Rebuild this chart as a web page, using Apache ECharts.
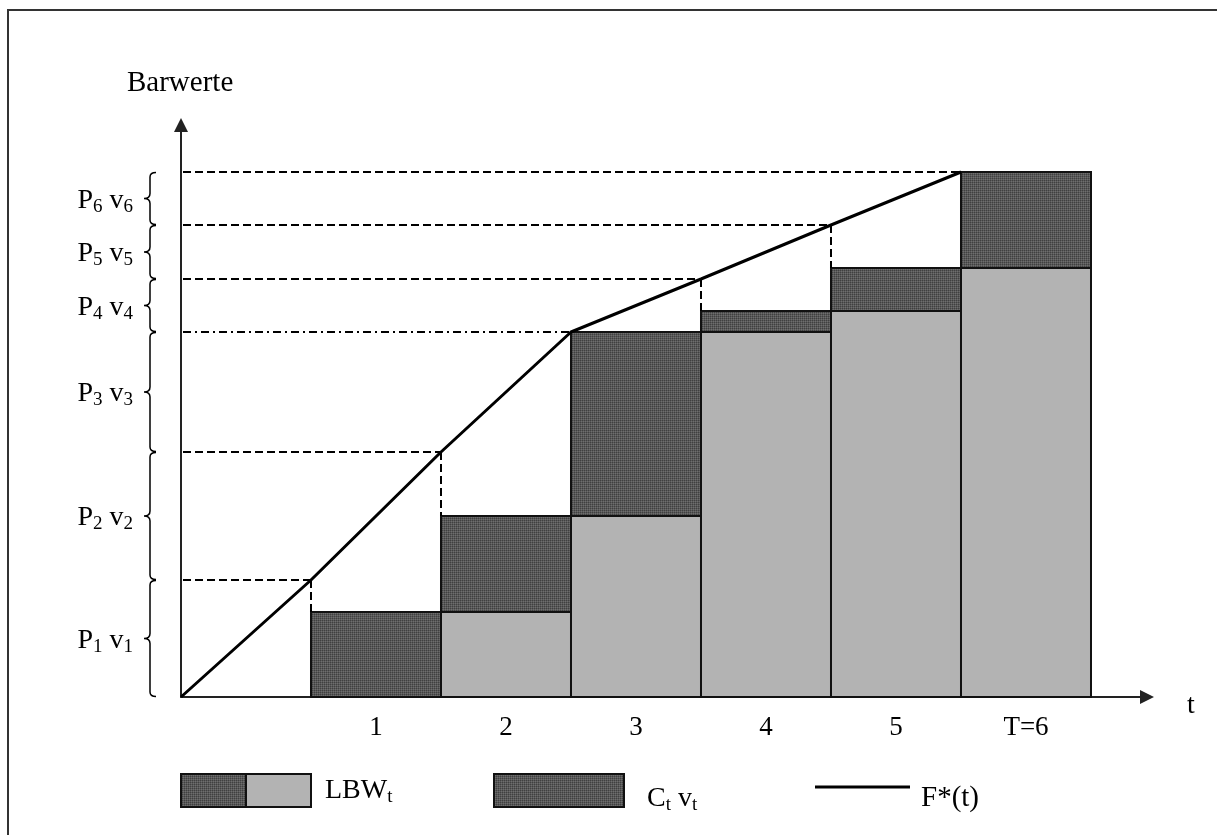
<!DOCTYPE html>
<html><head><meta charset="utf-8">
<script src="https://cdn.jsdelivr.net/npm/echarts@6/dist/echarts.min.js"></script>
<style>html,body{margin:0;padding:0;background:#fff}#c{width:1217px;height:835px}</style>
</head><body><div id="c"></div>
<script>
// ---- data ----
const periods = [1, 2, 3, 4, 5, 6];
const periodLabels = ['1', '2', '3', '4', '5', 'T=6'];
const fStar = [0, 117, 245, 365, 418, 472, 525];      // F*(t), t = 0..6
const lbw = [0, 85, 181, 365, 386, 429];              // light part of bar t
const ctvt = [85, 96, 184, 21, 43, 96];               // dark part (C_t v_t)
const braceIdx = ['1', '2', '3', '4', '5', '6'];       // P_i v_i labels
const dashDotPeriod = 3;

// ---- styles ----
const FONT = "'Liberation Serif','Times New Roman',serif";
const LIGHT = '#b3b3b3';
function makePattern() {
  const c = document.createElement('canvas');
  c.width = 4; c.height = 4;
  const g = c.getContext('2d');
  g.fillStyle = '#585858'; g.fillRect(0, 0, 4, 4);
  g.fillStyle = '#404040'; g.fillRect(0, 0, 1, 1); g.fillRect(2, 2, 1, 1); g.fillRect(2, 0, 1, 1); g.fillRect(0, 2, 1, 1);
  g.fillStyle = '#6e6e6e'; g.fillRect(1, 1, 1, 1); g.fillRect(3, 3, 1, 1); g.fillRect(3, 1, 1, 1); g.fillRect(1, 3, 1, 1);
  return { image: c, repeat: 'repeat' };
}
const DARK = makePattern();
const rich = {
  m: { fontSize: 28, fontFamily: FONT, color: '#000', lineHeight: 32 },
  s: { fontSize: 19, fontFamily: FONT, color: '#000', lineHeight: 15, verticalAlign: 'bottom' }
};

const chart = echarts.init(document.getElementById('c'), null, { renderer: 'canvas' });

const barData = periods.map((t, i) => [t, lbw[i], ctvt[i]]);
const guideData = periods.map((t, i) => [t, fStar[t], lbw[i] + ctvt[i]]);
const braceData = braceIdx.map((s, i) => [fStar[i], fStar[i + 1], i]);

const option = {
  animation: false,
  backgroundColor: '#fff',
  grid: { left: 181, right: 70, top: 125, bottom: 138, containLabel: false },
  xAxis: {
    type: 'value', min: 0, max: 7.4308, interval: 0.5,
    axisLine: { lineStyle: { color: '#222', width: 2 }, symbol: ['none', 'triangle'], symbolSize: [14, 14] },
    axisTick: { show: false }, splitLine: { show: false },
    axisLabel: {
      margin: 17, fontSize: 27, fontFamily: FONT, color: '#000', showMaxLabel: false,
      formatter: v => {
        const i = Math.round(v - 1.5);
        return (Math.abs(v - (i + 1.5)) < 1e-6 && i >= 0 && i < periodLabels.length) ? periodLabels[i] : '';
      }
    }
  },
  yAxis: {
    type: 'value', min: 0, max: 572,
    axisLine: { show: true, lineStyle: { color: '#222', width: 2 }, symbol: ['none', 'triangle'], symbolSize: [14, 14] },
    axisTick: { show: false }, splitLine: { show: false }, axisLabel: { show: false }
  },
  graphic: [
    { type: 'rect', shape: { x: 8, y: 10, width: 1300, height: 900 }, style: { fill: 'none', stroke: '#333', lineWidth: 2 }, z: 1 },
    { type: 'text', x: 127, y: 83, style: { text: 'Barwerte', fontSize: 29, fontFamily: FONT, fill: '#000', verticalAlign: 'middle' } },
    { type: 'text', x: 1187, y: 706, style: { text: 't', fontSize: 28, fontFamily: FONT, fill: '#000', verticalAlign: 'middle' } },
    { type: 'rect', shape: { x: 181, y: 774, width: 65, height: 33 }, style: { fill: DARK, stroke: '#111', lineWidth: 2 } },
    { type: 'rect', shape: { x: 246, y: 774, width: 65, height: 33 }, style: { fill: LIGHT, stroke: '#111', lineWidth: 2 } },
    { type: 'text', x: 325, y: 791, style: { text: '{m|LBW}{s|t}', rich: rich, verticalAlign: 'middle' } },
    { type: 'rect', shape: { x: 494, y: 774, width: 130, height: 33 }, style: { fill: DARK, stroke: '#111', lineWidth: 2 } },
    { type: 'text', x: 647, y: 799, style: { text: '{m|C}{s|t}{m| v}{s|t}', rich: rich, verticalAlign: 'middle' } },
    { type: 'line', shape: { x1: 815, y1: 787, x2: 910, y2: 787 }, style: { stroke: '#000', lineWidth: 3 } },
    { type: 'text', x: 921, y: 798, style: { text: 'F*(t)', fontSize: 29, fontFamily: FONT, fill: '#000', verticalAlign: 'middle' } }
  ],
  series: [
    {
      type: 'custom', name: 'bars', z: 2, data: barData,
      encode: { x: 0, y: [1, 2] },
      renderItem: (params, api) => {
        const t = api.value(0), l = api.value(1), c = api.value(2);
        const p0 = api.coord([t, 0]), p1 = api.coord([t + 1, l]), p2 = api.coord([t + 1, l + c]);
        const children = [];
        if (l > 0) children.push({ type: 'rect', shape: { x: p0[0], y: p1[1], width: p1[0] - p0[0], height: p0[1] - p1[1] }, style: { fill: LIGHT, stroke: '#111', lineWidth: 2 } });
        children.push({ type: 'rect', shape: { x: p0[0], y: p2[1], width: p2[0] - p0[0], height: p1[1] - p2[1] }, style: { fill: DARK, stroke: '#111', lineWidth: 2 } });
        return { type: 'group', children };
      }
    },
    {
      type: 'custom', name: 'guides', z: 3, data: guideData,
      encode: { x: 0, y: 1 },
      renderItem: (params, api) => {
        const t = api.value(0), f = api.value(1), top = api.value(2);
        const a = api.coord([0, f]), b = api.coord([t, f]), d = api.coord([t, top]);
        const dash = t === dashDotPeriod ? [8, 4, 2, 4] : [8, 4];
        const children = [{ type: 'line', shape: { x1: a[0] + 2, y1: a[1], x2: b[0], y2: b[1] }, style: { stroke: '#000', lineWidth: 2, lineDash: dash } }];
        if (top < f - 1) children.push({ type: 'line', shape: { x1: b[0], y1: b[1], x2: d[0], y2: d[1] }, style: { stroke: '#000', lineWidth: 2, lineDash: [8, 4] } });
        return { type: 'group', children };
      }
    },
    {
      type: 'custom', name: 'braces', z: 3, data: braceData,
      encode: { y: [0, 1] },
      renderItem: (params, api) => {
        const lo = api.value(0), hi = api.value(1), idx = api.value(2);
        const pa = api.coord([0, lo]), pb = api.coord([0, hi]);
        const x = pa[0] - 31, y2 = pa[1], y1 = pb[1], ym = (y1 + y2) / 2;
        const r = 5;
        const path = `M${x + 6} ${y1 + 0.5} Q${x} ${y1 + 0.5} ${x} ${y1 + r} L${x} ${ym - r} Q${x} ${ym} ${x - 6} ${ym} Q${x} ${ym} ${x} ${ym + r} L${x} ${y2 - r} Q${x} ${y2 - 0.5} ${x + 6} ${y2 - 0.5}`;
        const s = braceIdx[idx];
        return {
          type: 'group', children: [
            { type: 'path', shape: { pathData: path }, style: { fill: 'none', stroke: '#000', lineWidth: 1.5 } },
            { type: 'text', x: x - 17, y: ym + 2, style: { text: `{m|P}{s|${s}}{m| v}{s|${s}}`, rich: rich, align: 'right', verticalAlign: 'middle' } }
          ]
        };
      }
    },
    {
      type: 'line', name: 'F*(t)', z: 4, symbol: 'none',
      data: fStar.map((v, i) => [i, v]),
      lineStyle: { color: '#000', width: 3 }
    }
  ]
};
chart.setOption(option);
</script>
</body></html>
